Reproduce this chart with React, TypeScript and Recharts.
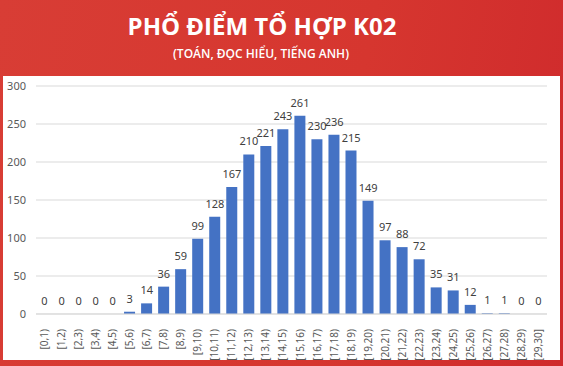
import { ComposedChart, Bar, Line, XAxis, YAxis, CartesianGrid, LabelList } from "recharts";

const ranges = [
  "[0,1)", "[1,2)", "[2,3)", "[3,4)", "[4,5)", "[5,6)", "[6,7)", "[7,8)", "[8,9)", "[9,10)",
  "[10,11)", "[11,12)", "[12,13)", "[13,14)", "[14,15)", "[15,16)", "[16,17)", "[17,18)", "[18,19)", "[19,20)",
  "[20,21)", "[21,22)", "[22,23)", "[23,24)", "[24,25)", "[25,26)", "[26,27)", "[27,28)", "[28,29)", "[29,30]",
];
const counts = [
  0, 0, 0, 0, 0, 3, 14, 36, 59, 99,
  128, 167, 210, 221, 243, 261, 230, 236, 215, 149,
  97, 88, 72, 35, 31, 12, 1, 1, 0, 0,
];
const yTicks = [0, 50, 100, 150, 200, 250, 300];

const data = ranges.map((r, i) => ({ range: r, count: counts[i] }));

const font = "'Noto Sans', sans-serif";

function RangeTick(props: any) {
  const { x, y, payload } = props;
  return (
    <text
      x={x}
      y={y + 7}
      transform={`rotate(-90, ${x}, ${y + 7})`}
      textAnchor="end"
      dy="0.35em"
      fill="#595959"
      fontSize={10}
      fontFamily={font}
    >
      {payload.value}
    </text>
  );
}

export default function App() {
  return (
    <div
      style={{
        position: "absolute",
        left: 0,
        top: 0,
        width: 563,
        height: 366,
        background: "linear-gradient(100deg, #d83d35 0%, #d6362f 60%, #cf2a2c 100%)",
        overflow: "hidden",
      }}
    >
      <div
        style={{
          position: "absolute",
          top: 9,
          left: 0,
          width: 524,
          textAlign: "center",
          color: "#fff",
          fontFamily: "'Open Sans', sans-serif",
          fontWeight: 700,
          fontSize: 24,
          lineHeight: "34px",
        }}
      >
        PHỔ ĐIỂM TỔ HỢP K02
      </div>
      <div
        style={{
          position: "absolute",
          top: 45,
          left: 0,
          width: 522,
          textAlign: "center",
          color: "#fff",
          fontFamily: "'Open Sans', sans-serif",
          fontWeight: 600,
          fontSize: 12,
          lineHeight: "18px",
        }}
      >
        (TOÁN, ĐỌC HIỂU, TIẾNG ANH)
      </div>
      <div
        style={{
          position: "absolute",
          left: 3,
          top: 76,
          width: 557,
          height: 284,
          background: "#fff",
        }}
      >
        <ComposedChart
          width={557}
          height={284}
          data={data}
          margin={{ top: 10, right: 13, bottom: 0, left: 0 }}
          barCategoryGap="17%"
        >
          <CartesianGrid vertical={false} stroke="#d9d9d9" />
          <XAxis
            dataKey="range"
            interval={0}
            height={46}
            tickLine={false}
            axisLine={{ stroke: "#d9d9d9" }}
            tick={<RangeTick />}
          />
          <YAxis
            width={33}
            domain={[0, 300]}
            ticks={yTicks}
            tickLine={false}
            axisLine={false}
            tickSize={0}
            tickMargin={10}
            tick={{ fill: "#595959", fontSize: 11, fontFamily: font }}
          />
          <Bar dataKey="count" fill="#4472c4" isAnimationActive={false} />
          <Line
            dataKey="count"
            stroke="none"
            dot={false}
            activeDot={false}
            isAnimationActive={false}
          >
            <LabelList
              dataKey="count"
              position="top"
              offset={9}
              fill="#404040"
              fontSize={11}
              fontFamily={font}
            />
          </Line>
        </ComposedChart>
      </div>
    </div>
  );
}
